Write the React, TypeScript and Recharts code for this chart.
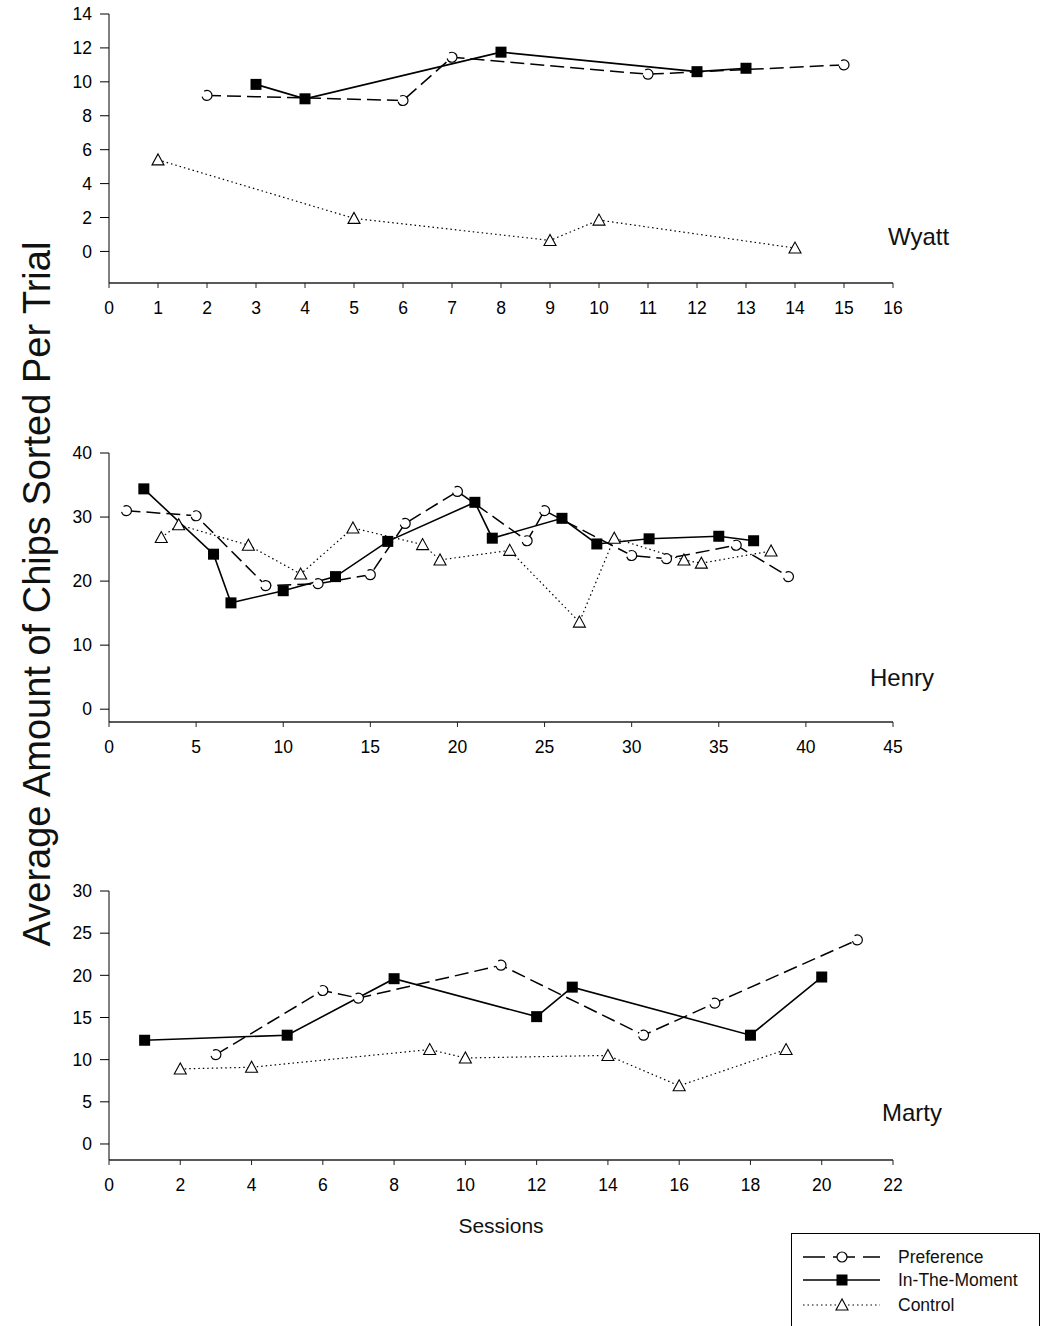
import { LineChart, Line, XAxis, YAxis } from 'recharts'

// Wyatt
const wyattPref = [
  { x: 2, y: 9.2 }, { x: 6, y: 8.9 }, { x: 7, y: 11.45 }, { x: 11, y: 10.45 }, { x: 15, y: 11.0 },
]
const wyattMoment = [
  { x: 3, y: 9.85 }, { x: 4, y: 9.0 }, { x: 8, y: 11.75 }, { x: 12, y: 10.6 }, { x: 13, y: 10.8 },
]
const wyattControl = [
  { x: 1, y: 5.4 }, { x: 5, y: 1.95 }, { x: 9, y: 0.65 }, { x: 10, y: 1.85 }, { x: 14, y: 0.2 },
]

// Henry
const henryPref = [
  { x: 1, y: 31.0 }, { x: 5, y: 30.2 }, { x: 9, y: 19.3 }, { x: 12, y: 19.6 }, { x: 15, y: 21.0 },
  { x: 17, y: 29.0 }, { x: 20, y: 34.0 }, { x: 24, y: 26.3 }, { x: 25, y: 31.0 }, { x: 30, y: 24.0 },
  { x: 32, y: 23.5 }, { x: 36, y: 25.6 }, { x: 39, y: 20.7 },
]
const henryMoment = [
  { x: 2, y: 34.4 }, { x: 6, y: 24.2 }, { x: 7, y: 16.6 }, { x: 10, y: 18.5 }, { x: 13, y: 20.7 },
  { x: 16, y: 26.2 }, { x: 21, y: 32.3 }, { x: 22, y: 26.7 }, { x: 26, y: 29.8 }, { x: 28, y: 25.8 },
  { x: 31, y: 26.6 }, { x: 35, y: 27.0 }, { x: 37, y: 26.3 },
]
const henryControl = [
  { x: 3, y: 26.8 }, { x: 4, y: 28.8 }, { x: 8, y: 25.6 }, { x: 11, y: 21.1 }, { x: 14, y: 28.3 },
  { x: 18, y: 25.7 }, { x: 19, y: 23.3 }, { x: 23, y: 24.8 }, { x: 27, y: 13.6 }, { x: 29, y: 26.7 },
  { x: 33, y: 23.3 }, { x: 34, y: 22.8 }, { x: 38, y: 24.7 },
]

// Marty
const martyPref = [
  { x: 3, y: 10.6 }, { x: 6, y: 18.2 }, { x: 7, y: 17.3 }, { x: 11, y: 21.2 }, { x: 15, y: 12.9 },
  { x: 17, y: 16.7 }, { x: 21, y: 24.2 },
]
const martyMoment = [
  { x: 1, y: 12.3 }, { x: 5, y: 12.9 }, { x: 8, y: 19.6 }, { x: 12, y: 15.1 }, { x: 13, y: 18.6 },
  { x: 18, y: 12.9 }, { x: 20, y: 19.8 },
]
const martyControl = [
  { x: 2, y: 8.9 }, { x: 4, y: 9.1 }, { x: 9, y: 11.2 }, { x: 10, y: 10.2 }, { x: 14, y: 10.5 },
  { x: 16, y: 6.9 }, { x: 19, y: 11.2 },
]

const wyattXTicks = [0, 1, 2, 3, 4, 5, 6, 7, 8, 9, 10, 11, 12, 13, 14, 15, 16]
const wyattYTicks = [0, 2, 4, 6, 8, 10, 12, 14]
const henryXTicks = [0, 5, 10, 15, 20, 25, 30, 35, 40, 45]
const henryYTicks = [0, 10, 20, 30, 40]
const martyXTicks = [0, 2, 4, 6, 8, 10, 12, 14, 16, 18, 20, 22]
const martyYTicks = [0, 5, 10, 15, 20, 25, 30]

const FONT = '"Liberation Sans", Arial, sans-serif'
const tickStyle = { fontSize: 17.5, fill: '#000', fontFamily: FONT }

const circleDot = { r: 5, fill: '#fff', stroke: '#000', strokeWidth: 1.2 }

const squareDot = (p: any) => (
  <rect key={`sq-${p.index}`} x={p.cx - 5.5} y={p.cy - 5.5} width={11} height={11} fill="#000" />
)

const triangleDot = (p: any) => (
  <polygon
    key={`tr-${p.index}`}
    points={`${p.cx},${p.cy - 6} ${p.cx - 6},${p.cy + 5} ${p.cx + 6},${p.cy + 5}`}
    fill="#fff"
    stroke="#000"
    strokeWidth={1.1}
  />
)

interface PanelProps {
  top: number
  xMax: number
  xTicks: number[]
  yMin: number
  yMax: number
  yTicks: number[]
  pref: { x: number; y: number }[]
  moment: { x: number; y: number }[]
  control: { x: number; y: number }[]
}

function Panel({ top, xMax, xTicks, yMin, yMax, yTicks, pref, moment, control }: PanelProps) {
  return (
    <div style={{ position: 'absolute', left: 0, top }}>
      <LineChart width={1045} height={320} margin={{ top: 10, right: 152, left: 0, bottom: 0 }}>
        <XAxis
          type="number"
          dataKey="x"
          domain={[0, xMax]}
          ticks={xTicks}
          interval={0}
          allowDataOverflow
          height={41}
          tickSize={5}
          tickMargin={14}
          fontSize={17.5}
          tick={tickStyle}
          axisLine={{ stroke: '#222', strokeWidth: 1.6 }}
          tickLine={{ stroke: '#222' }}
        />
        <YAxis
          type="number"
          dataKey="y"
          domain={[yMin, yMax]}
          ticks={yTicks}
          interval={0}
          allowDataOverflow
          width={109}
          tickSize={9}
          tickMargin={8}
          fontSize={17.5}
          tick={tickStyle}
          axisLine={{ stroke: '#000' }}
          tickLine={{ stroke: '#000' }}
        />
        <Line
          data={control}
          dataKey="y"
          stroke="#000"
          strokeWidth={1.2}
          strokeDasharray="1.5 3"
          dot={triangleDot}
          isAnimationActive={false}
        />
        <Line
          data={pref}
          dataKey="y"
          stroke="#000"
          strokeWidth={1.5}
          strokeDasharray="14 6"
          dot={circleDot}
          isAnimationActive={false}
        />
        <Line
          data={moment}
          dataKey="y"
          stroke="#000"
          strokeWidth={1.6}
          dot={squareDot}
          isAnimationActive={false}
        />
      </LineChart>
    </div>
  )
}

export default function App() {
  return (
    <div
      style={{
        position: 'absolute',
        left: 0,
        top: 0,
        width: 1045,
        height: 1326,
        background: '#fff',
        overflow: 'hidden',
        fontFamily: FONT,
      }}
    >
      <Panel top={4} xMax={16} xTicks={wyattXTicks} yMin={-1.86} yMax={14} yTicks={wyattYTicks}
        pref={wyattPref} moment={wyattMoment} control={wyattControl} />
      <Panel top={443} xMax={45} xTicks={henryXTicks} yMin={-2} yMax={40} yTicks={henryYTicks}
        pref={henryPref} moment={henryMoment} control={henryControl} />
      <Panel top={881} xMax={22} xTicks={martyXTicks} yMin={-1.9} yMax={30} yTicks={martyYTicks}
        pref={martyPref} moment={martyMoment} control={martyControl} />

      <svg width={1045} height={1326} style={{ position: 'absolute', left: 0, top: 0, pointerEvents: 'none' }}>
        <text
          x={37}
          y={594}
          transform="rotate(-90 37 594)"
          textAnchor="middle"
          dominantBaseline="central"
          fontSize={38}
          fontFamily={FONT}
          fill="#111"
        >
          Average Amount of Chips Sorted Per Trial
        </text>
        <text x={888} y={245} fontSize={24} fontFamily={FONT} fill="#111">Wyatt</text>
        <text x={870} y={686} fontSize={24} fontFamily={FONT} fill="#111">Henry</text>
        <text x={882} y={1121} fontSize={24} fontFamily={FONT} fill="#111">Marty</text>
        <text x={501} y={1233} fontSize={21} textAnchor="middle" fontFamily={FONT} fill="#111">Sessions</text>

        {/* legend */}
        <rect x={791.5} y={1233.5} width={248} height={120} fill="#fff" stroke="#000" strokeWidth={1} />
        <line x1={803} y1={1257} x2={880} y2={1257} stroke="#000" strokeWidth={1.3} strokeDasharray="22 8" />
        <circle cx={842} cy={1257} r={5} fill="#fff" stroke="#000" strokeWidth={1.2} />
        <text x={898} y={1263} fontSize={17.5} fontFamily={FONT} fill="#111">Preference</text>
        <line x1={803} y1={1280} x2={880} y2={1280} stroke="#000" strokeWidth={1.6} />
        <rect x={836.5} y={1274.5} width={11} height={11} fill="#000" />
        <text x={898} y={1286} fontSize={17.5} fontFamily={FONT} fill="#111">In-The-Moment</text>
        <line x1={803} y1={1305} x2={880} y2={1305} stroke="#000" strokeWidth={1.2} strokeDasharray="1.5 3" />
        <polygon points="842,1299 836,1310 848,1310" fill="#fff" stroke="#000" strokeWidth={1.1} />
        <text x={898} y={1311} fontSize={17.5} fontFamily={FONT} fill="#111">Control</text>
      </svg>
    </div>
  )
}
